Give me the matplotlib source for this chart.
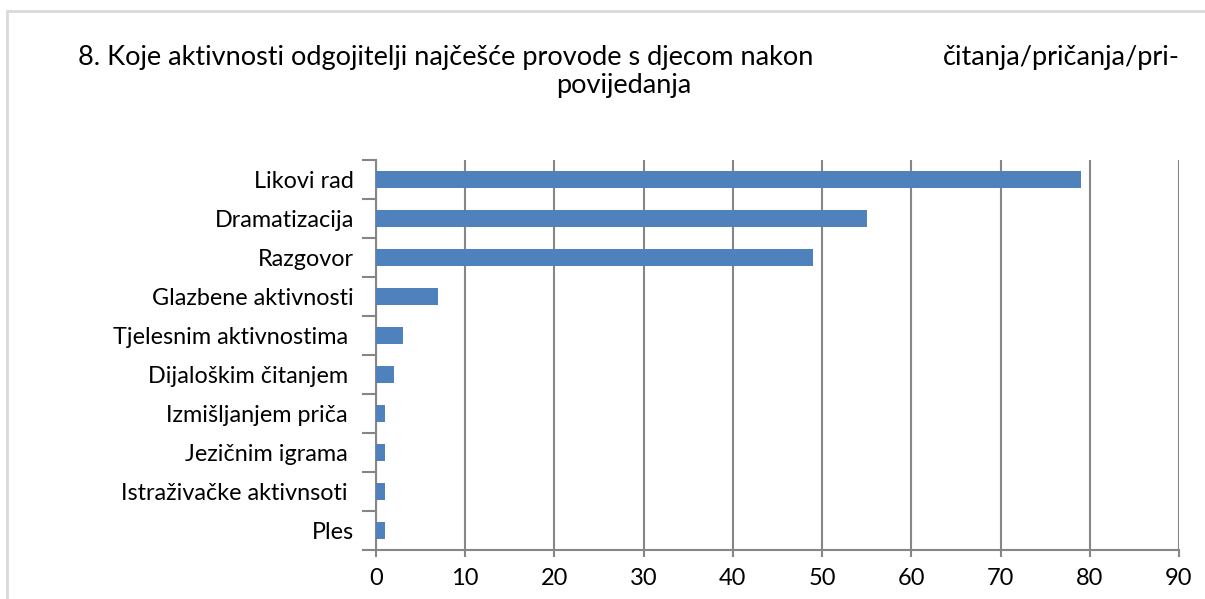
import matplotlib
matplotlib.use("Agg")
import matplotlib.pyplot as plt
from matplotlib.patches import Rectangle

categories = ["Likovi rad", "Dramatizacija", "Razgovor", "Glazbene aktivnosti",
              "Tjelesnim aktivnostima ", "Dijaloškim čitanjem ", "Izmišljanjem priča ",
              "Jezičnim igrama ", "Istraživačke aktivnsoti ", "Ples"]
values = [79, 55, 49, 7, 3, 2, 1, 1, 1, 1]
xticks = [0, 10, 20, 30, 40, 50, 60, 70, 80, 90]

W, H = 1205, 599
fig = plt.figure(figsize=(W / 100, H / 100), dpi=100)
plt.rcParams['font.family'] = ['Lato', 'DejaVu Sans']

# chart frame
fig.patches.append(Rectangle((7 / W, -0.1), 1.2, 1 - 11 / H + 0.1, transform=fig.transFigure,
                             fill=False, edgecolor="#D9D9D9", linewidth=2, zorder=0))

ax = fig.add_axes([376 / W, 1 - 550 / H, (1179 - 376) / W, (550 - 160) / H])
n = len(categories)
ypos = list(range(n))[::-1]
ax.barh(ypos, values, height=0.42, color="#4F81BD", zorder=3)
ax.set_xlim(0, 90)
ax.set_ylim(-0.5, n - 0.5)
ax.set_xticks(xticks)
ax.set_xticklabels([str(t) for t in xticks], fontsize=17)
ax.xaxis.grid(True, color="#868686", linewidth=1.5, zorder=1)
ax.set_yticks(ypos)
ax.set_yticklabels(categories, fontsize=16.8)
ax.tick_params(axis="y", length=0, pad=16)
ax.set_yticks([i - 0.5 for i in range(n + 1)], minor=True)
ax.tick_params(axis="y", which="minor", length=10, width=1.5, color="#868686", direction="out")
ax.tick_params(axis="x", length=5, width=1.5, color="#868686", direction="out", pad=8)
for s in ["top", "right"]:
    ax.spines[s].set_visible(False)
for s in ["left", "bottom"]:
    ax.spines[s].set_color("#868686")
    ax.spines[s].set_linewidth(1.5)

# title
fig.text(78 / W, 1 - 57 / H, "8. Koje aktivnosti odgojitelji najčešće provode s djecom nakon",
         ha="left", va="center", fontsize=19.5)
fig.text(1180 / W, 1 - 57 / H, "čitanja/pričanja/pri-", ha="right", va="center", fontsize=19.5)
fig.text(624 / W, 1 - 86 / H, "povijedanja", ha="center", va="center", fontsize=19.5)

fig.savefig("out.png", dpi=100)
